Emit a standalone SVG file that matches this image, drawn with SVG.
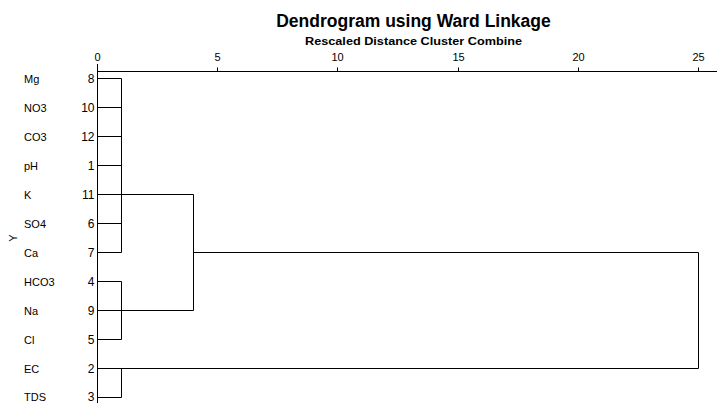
<svg xmlns="http://www.w3.org/2000/svg" width="719" height="403" viewBox="0 0 719 403">
<style>
.ln{stroke:#000;stroke-width:1;fill:none}
.t{font-family:"Liberation Sans",Arial,sans-serif;fill:#000}
.nm{font-size:11px}
.num{font-size:12px;text-anchor:end}
.tk{font-size:11px;text-anchor:middle}
</style>
<rect width="719" height="403" fill="#fff"/>
<g id="title">
<text class="t" x="413.5" y="27" font-size="17.5" font-weight="bold" text-anchor="middle">Dendrogram using Ward Linkage</text>
<text class="t" x="413.5" y="45" font-size="11" font-weight="bold" text-anchor="middle" textLength="217" lengthAdjust="spacingAndGlyphs">Rescaled Distance Cluster Combine</text>
</g>
<g id="axis">
<path class="ln" d="M97.5 71.5H717 M217.5 67.5V71.5 M337.5 67.5V71.5 M458.5 67.5V71.5 M578.5 67.5V71.5 M698.5 67.5V71.5 M97.5 64V403"/>
<text class="t tk" x="97.5" y="61">0</text>
<text class="t tk" x="217.5" y="61">5</text>
<text class="t tk" x="337.5" y="61">10</text>
<text class="t tk" x="458.5" y="61">15</text>
<text class="t tk" x="578.5" y="61">20</text>
<text class="t tk" x="698.5" y="61">25</text>
<text class="t" x="0" y="0" font-size="11" text-anchor="middle" transform="translate(17 238) rotate(-90)">Y</text>
</g>
<g id="leaves">
<g id="leaf-Mg"><text class="t nm" x="24" y="83">Mg</text><text class="t num" x="94.5" y="83">8</text></g>
<g id="leaf-NO3"><text class="t nm" x="24" y="112">NO3</text><text class="t num" x="94.5" y="112">10</text></g>
<g id="leaf-CO3"><text class="t nm" x="24" y="141">CO3</text><text class="t num" x="94.5" y="141">12</text></g>
<g id="leaf-pH"><text class="t nm" x="24" y="170">pH</text><text class="t num" x="94.5" y="170">1</text></g>
<g id="leaf-K"><text class="t nm" x="24" y="199">K</text><text class="t num" x="94.5" y="199">11</text></g>
<g id="leaf-SO4"><text class="t nm" x="24" y="228">SO4</text><text class="t num" x="94.5" y="228">6</text></g>
<g id="leaf-Ca"><text class="t nm" x="24" y="257">Ca</text><text class="t num" x="94.5" y="257">7</text></g>
<g id="leaf-HCO3"><text class="t nm" x="24" y="286">HCO3</text><text class="t num" x="94.5" y="286">4</text></g>
<g id="leaf-Na"><text class="t nm" x="24" y="315">Na</text><text class="t num" x="94.5" y="315">9</text></g>
<g id="leaf-Cl"><text class="t nm" x="24" y="344">Cl</text><text class="t num" x="94.5" y="344">5</text></g>
<g id="leaf-EC"><text class="t nm" x="24" y="373">EC</text><text class="t num" x="94.5" y="373">2</text></g>
<g id="leaf-TDS"><text class="t nm" x="24" y="401">TDS</text><text class="t num" x="94.5" y="401">3</text></g>
</g>
<g id="connectors">
<path class="ln" d="M97.5 78.5H121.5 M97.5 107.5H121.5 M97.5 136.5H121.5 M97.5 165.5H121.5 M97.5 194.5H193.5 M97.5 223.5H121.5 M97.5 252.5H121.5 M121.5 78.5V252.5"/>
<path class="ln" d="M97.5 281.5H121.5 M97.5 310.5H193.5 M97.5 339.5H121.5 M121.5 281.5V339.5"/>
<path class="ln" d="M193.5 194.5V310.5 M193.5 252.5H698.5 M698.5 252.5V368.5"/>
<path class="ln" d="M97.5 368.5H698.5 M97.5 397.5H121.5 M121.5 368.5V397.5"/>
</g>
</svg>
